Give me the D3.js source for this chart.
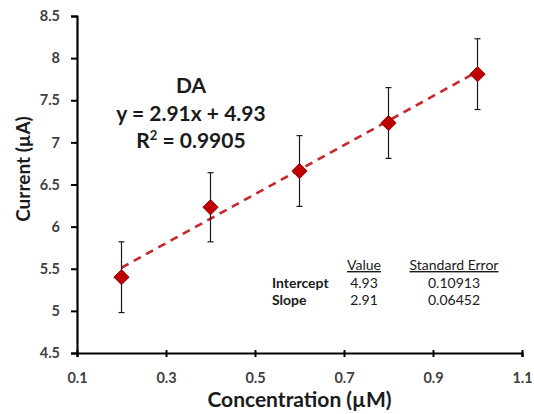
<!DOCTYPE html>
<html>
<head>
<meta charset="utf-8">
<script src="https://cdn.jsdelivr.net/npm/d3@7"></script>
<style>
  html, body { margin: 0; padding: 0; background: #fff; }
  svg { display: block; font-family: Lato, "Open Sans", sans-serif; }
</style>
</head>
<body>
<svg id="chart" width="534" height="414"></svg>
<script>
// Calibration data: DA concentration vs. peak current
const concentration = [0.2, 0.4, 0.6, 0.8, 1.0];
const current = [5.40, 6.23, 6.66, 7.23, 7.81];
const currentErr = [0.42, 0.41, 0.42, 0.42, 0.42];

// Linear fit
const slope = 2.91;
const intercept = 4.93;
const r2 = 0.9905;
const slopeSE = 0.06452;
const interceptSE = 0.10913;

const xTicks = [0.1, 0.3, 0.5, 0.7, 0.9, 1.1];
const yTicks = [4.5, 5, 5.5, 6, 6.5, 7, 7.5, 8, 8.5];

const svg = d3.select("#chart");
const x = d3.scaleLinear().domain([0.1, 1.1]).range([77, 522]);
const y = d3.scaleLinear().domain([4.5, 8.5]).range([353, 16]);

const tickColor = "#404040";

// Axes
const xAxis = svg.append("g").attr("transform", `translate(0,${y(4.5)})`)
  .call(d3.axisBottom(x).tickValues(xTicks).tickFormat(d3.format(".1f")).tickSize(4).tickPadding(16));
const yAxis = svg.append("g").attr("transform", `translate(${x(0.1)},0)`)
  .call(d3.axisLeft(y).tickValues(yTicks).tickFormat(d => String(d)).tickSize(6).tickPadding(11));

[xAxis, yAxis].forEach(g => {
  g.select(".domain").attr("stroke", "#000").attr("stroke-width", 2.2);
  g.selectAll(".tick line").attr("stroke", "#000").attr("stroke-width", 2);
  g.selectAll(".tick text").attr("fill", tickColor)
    .style("font-family", "Lato, 'Open Sans', sans-serif")
    .style("font-size", "14.5px").style("font-weight", "bold");
});
xAxis.selectAll(".tick line").attr("y1", -3);

// Axis titles
svg.append("text").attr("x", x(0.6)).attr("y", 407).attr("text-anchor", "middle")
  .style("font-size", "21px").style("font-weight", "bold").attr("fill", "#1a1a1a")
  .text("Concentration (µM)");
svg.append("text").attr("transform", `translate(30,169) rotate(-90)`)
  .attr("text-anchor", "middle")
  .style("font-size", "19px").style("font-weight", "bold").attr("fill", "#1a1a1a")
  .text("Current (µA)");

// Fitted trend line
const x0 = d3.min(concentration), x1 = d3.max(concentration);
svg.append("line")
  .attr("x1", x(x0)).attr("y1", y(slope * x0 + intercept))
  .attr("x2", x(x1)).attr("y2", y(slope * x1 + intercept))
  .attr("stroke", "#c8262c").attr("stroke-width", 2.6)
  .attr("stroke-dasharray", "8,6");

// Error bars
const points = concentration.map((c, i) => ({ c, v: current[i], e: currentErr[i] }));
const eb = svg.append("g").attr("stroke", "#1a1a1a").attr("stroke-width", 1.2);
points.forEach(p => {
  eb.append("line").attr("x1", x(p.c)).attr("x2", x(p.c))
    .attr("y1", y(p.v + p.e)).attr("y2", y(p.v - p.e));
  [p.v + p.e, p.v - p.e].forEach(v => {
    eb.append("line").attr("x1", x(p.c) - 3).attr("x2", x(p.c) + 3)
      .attr("y1", y(v)).attr("y2", y(v));
  });
});

// Markers
svg.append("g").selectAll("path").data(points).join("path")
  .attr("d", d3.symbol().type(d3.symbolDiamond2).size(150))
  .attr("transform", d => `translate(${x(d.c)},${y(d.v)})`)
  .attr("fill", "#c00000").attr("stroke", "#7a0000").attr("stroke-width", 0.8);

// Regression annotation
const ann = svg.append("g").attr("text-anchor", "middle").attr("fill", "#1a1a1a")
  .style("font-size", "21px").style("font-weight", "bold");
ann.append("text").attr("x", 191).attr("y", 93).text("DA");
ann.append("text").attr("x", 191).attr("y", 121).text(`y = ${slope}x + ${intercept}`);
const r2t = ann.append("text").attr("x", 191).attr("y", 148);
r2t.append("tspan").text("R");
r2t.append("tspan").attr("dy", -8).style("font-size", "13px").text("2");
r2t.append("tspan").attr("dy", 8).text(` = ${r2}`);

// Fit statistics table
const tbl = svg.append("g").style("font-size", "14px").attr("fill", "#1a1a1a");
const colValue = 364, colSE = 454;
tbl.append("text").attr("x", colValue).attr("y", 270).attr("text-anchor", "middle")
  .attr("text-decoration", "underline").text("Value");
tbl.append("text").attr("x", colSE).attr("y", 270).attr("text-anchor", "middle")
  .attr("text-decoration", "underline").text("Standard Error");
const rows = [["Intercept", intercept.toFixed(2), interceptSE.toFixed(5)],
              ["Slope", slope.toFixed(2), slopeSE.toFixed(5)]];
rows.forEach((r, i) => {
  const yy = 288 + i * 17;
  tbl.append("text").attr("x", 272).attr("y", yy).style("font-weight", "bold").text(r[0]);
  tbl.append("text").attr("x", colValue).attr("y", yy).attr("text-anchor", "middle").text(r[1]);
  tbl.append("text").attr("x", colSE).attr("y", yy).attr("text-anchor", "middle").text(r[2]);
});
</script>
</body>
</html>
